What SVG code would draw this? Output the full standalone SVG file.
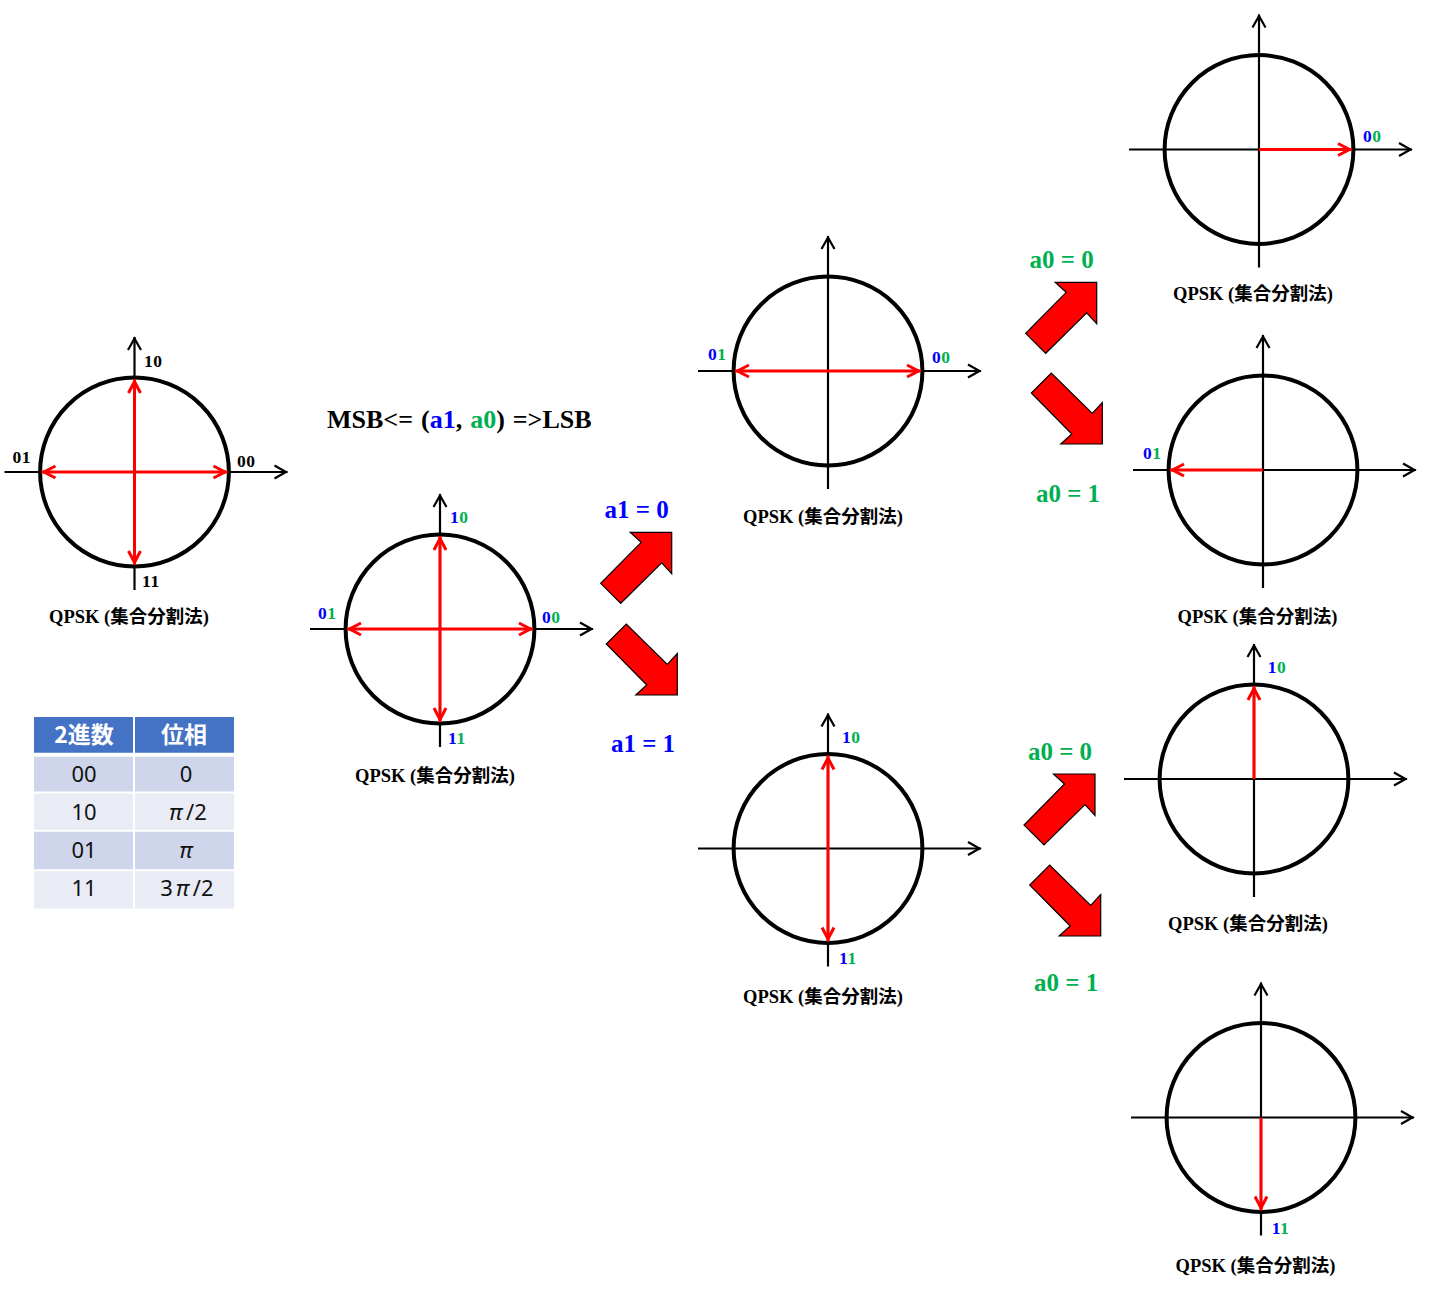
<svg xmlns="http://www.w3.org/2000/svg" xmlns:xlink="http://www.w3.org/1999/xlink" width="1432" height="1289" viewBox="0 0 1432 1289">
<style>
.circ{fill:none;stroke:#000;stroke-width:4}
.axis{fill:none;stroke:#000;stroke-width:2.2}
.red1{fill:none;stroke:#f00;stroke-width:3;marker-end:url(#rh)}
.red2{fill:none;stroke:#f00;stroke-width:3;marker-end:url(#rh);marker-start:url(#rh)}
.lbl{font-family:"Liberation Serif","Noto Sans CJK JP",serif;font-weight:bold;font-size:17.5px;letter-spacing:0.6px}
.cap{font-family:"Liberation Serif","Noto Sans CJK JP",serif;font-weight:bold;font-size:18.5px;text-anchor:middle;fill:#000}
.eq{font-family:"Liberation Serif",serif;font-weight:bold;font-size:25px;text-anchor:middle}
.b{fill:#0000ff}
.g{fill:#00b050}
.big{fill:#f00;stroke:#000;stroke-width:1.2;stroke-linejoin:miter}
.th{font-family:"Noto Sans CJK JP","Noto Sans",sans-serif;font-weight:bold;font-size:23px;fill:#fff;text-anchor:middle}
.td{font-family:"Noto Sans","Noto Sans CJK JP",sans-serif;font-size:22px;fill:#111;text-anchor:middle}
</style>
<defs>
<marker id="ah" markerUnits="userSpaceOnUse" markerWidth="24" markerHeight="24" viewBox="-16 -12 24 24" refX="0" refY="0" orient="auto">
<path d="M-13,-6.5 L-1.5,0 L-13,6.5" fill="none" stroke="#000" stroke-width="2.2"/>
</marker>
<marker id="rh" markerUnits="userSpaceOnUse" markerWidth="24" markerHeight="24" viewBox="-18 -12 24 24" refX="0" refY="0" orient="auto-start-reverse">
<path d="M-14,-6 L-2.5,0 L-14,6" fill="none" stroke="#f00" stroke-width="3"/>
</marker>
<g id="plane">
<path class="axis" d="M-130,0 H153" marker-end="url(#ah)"/>
<path class="axis" d="M0,118 V-135" marker-end="url(#ah)"/>
<circle class="circ" cx="0" cy="0" r="94.4"/>
</g>
<path id="bigUp" d="M-41.5,0 L0,0 L0,41.5 L-10,30.5 L-51,71 L-71,51 L-30.5,10 Z"/>
<path id="bigDown" d="M-41.5,0 L0,0 L0,-41.5 L-10,-30.5 L-51,-71 L-71,-51 L-30.5,-10 Z"/>
</defs>
<rect width="1432" height="1289" fill="#fff"/>

<g id="d1" transform="translate(134.5,472)">
<use href="#plane"/>
<path class="red2" d="M-93,0 H93"/>
<path class="red2" d="M0,-93 V93"/>
<text class="lbl" x="9.5" y="-105.3">10</text>
<text class="lbl" x="-122" y="-9.3">01</text>
<text class="lbl" x="102.5" y="-5.3">00</text>
<text class="lbl" x="7.5" y="114.7">11</text>
<text class="cap" x="-5.5" y="151">QPSK (集合分割法)</text>
</g>

<g id="title">
<text x="327" y="428.3" style="font-family:'Liberation Serif',serif;font-weight:bold;font-size:26px;word-spacing:1.5px">MSB&lt;= (<tspan class="b">a1</tspan>, <tspan class="g">a0</tspan>) =&gt;LSB</text>
</g>

<g id="d2" transform="translate(440,629)">
<use href="#plane"/>
<path class="red2" d="M-93,0 H93"/>
<path class="red2" d="M0,-93 V93"/>
<text class="lbl" x="10" y="-105.7"><tspan class="b">1</tspan><tspan class="g">0</tspan></text>
<text class="lbl" x="-122" y="-10"><tspan class="b">0</tspan><tspan class="g">1</tspan></text>
<text class="lbl" x="102" y="-6.3"><tspan class="b">0</tspan><tspan class="g">0</tspan></text>
<text class="lbl" x="8" y="115"><tspan class="b">1</tspan><tspan class="g">1</tspan></text>
<text class="cap" x="-5" y="152.7">QPSK (集合分割法)</text>
</g>

<g id="d3" transform="translate(828,371)">
<use href="#plane"/>
<path class="red2" d="M-93,0 H93"/>
<text class="lbl" x="-120" y="-11"><tspan class="b">0</tspan><tspan class="g">1</tspan></text>
<text class="lbl" x="104" y="-8.3"><tspan class="b">0</tspan><tspan class="g">0</tspan></text>
<text class="cap" x="-5" y="152.3">QPSK (集合分割法)</text>
</g>

<g id="d4" transform="translate(828,848.5)">
<use href="#plane"/>
<path class="red2" d="M0,-93 V93"/>
<text class="lbl" x="14" y="-105.2"><tspan class="b">1</tspan><tspan class="g">0</tspan></text>
<text class="lbl" x="11" y="115.8"><tspan class="b">1</tspan><tspan class="g">1</tspan></text>
<text class="cap" x="-5" y="154.2">QPSK (集合分割法)</text>
</g>

<g id="d5" transform="translate(1259,149.5)">
<use href="#plane"/>
<path class="red1" d="M0,0 H93"/>
<text class="lbl" x="104" y="-7.2"><tspan class="b">0</tspan><tspan class="g">0</tspan></text>
<text class="cap" x="-6" y="150.5">QPSK (集合分割法)</text>
</g>

<g id="d6" transform="translate(1263,470)">
<use href="#plane"/>
<path class="red1" d="M0,0 H-93"/>
<text class="lbl" x="-120" y="-11"><tspan class="b">0</tspan><tspan class="g">1</tspan></text>
<text class="cap" x="-5.5" y="153.3">QPSK (集合分割法)</text>
</g>

<g id="d7" transform="translate(1254,779)">
<use href="#plane"/>
<path class="red1" d="M0,0 V-93"/>
<text class="lbl" x="13.7" y="-105.7"><tspan class="b">1</tspan><tspan class="g">0</tspan></text>
<text class="cap" x="-6" y="151">QPSK (集合分割法)</text>
</g>

<g id="d8" transform="translate(1261,1117.5)">
<use href="#plane"/>
<path class="red1" d="M0,0 V93"/>
<text class="lbl" x="10.7" y="116.5"><tspan class="b">1</tspan><tspan class="g">1</tspan></text>
<text class="cap" x="-5.5" y="154.2">QPSK (集合分割法)</text>
</g>

<g id="connectors">
<use class="big" href="#bigUp" x="671.7" y="532.3"/>
<use class="big" href="#bigDown" x="677.3" y="695"/>
<use class="big" href="#bigUp" x="1096.7" y="282.3"/>
<use class="big" href="#bigDown" x="1102.3" y="444"/>
<use class="big" href="#bigUp" x="1095" y="774"/>
<use class="big" href="#bigDown" x="1100.7" y="936"/>
<text class="eq b" x="636.7" y="517.5">a1 = 0</text>
<text class="eq b" x="643" y="751.5">a1 = 1</text>
<text class="eq g" x="1061.7" y="267.5">a0 = 0</text>
<text class="eq g" x="1068" y="501.5">a0 = 1</text>
<text class="eq g" x="1060" y="760">a0 = 0</text>
<text class="eq g" x="1066.2" y="991">a0 = 1</text>
</g>

<g id="table">
<rect x="34" y="717" width="200" height="38" fill="#4472c4"/>
<rect x="34" y="755" width="200" height="38" fill="#cfd5ea"/>
<rect x="34" y="793" width="200" height="38" fill="#e9ebf5"/>
<rect x="34" y="831" width="200" height="39" fill="#cfd5ea"/>
<rect x="34" y="870" width="200" height="38.5" fill="#e9ebf5"/>
<path d="M34,754.7 H234" stroke="#fff" stroke-width="4"/>
<path d="M34,792.5 H234 M34,830.8 H234 M34,870.2 H234 M134,717 V908.5" stroke="#fff" stroke-width="2"/>
<text class="th" x="84" y="743.3">2進数</text>
<text class="th" x="184" y="743.3">位相</text>
<text class="td" x="84" y="781.7">00</text>
<text class="td" x="186" y="781.7">0</text>
<text class="td" x="84" y="820">10</text>
<text class="td" x="188" y="820"><tspan font-style="italic">π</tspan><tspan dx="4">/2</tspan></text>
<text class="td" x="84" y="858.3">01</text>
<text class="td" x="186" y="858.3" font-style="italic">π</text>
<text class="td" x="84" y="895.7">11</text>
<text class="td" x="187" y="895.7">3<tspan dx="3" font-style="italic">π</tspan><tspan dx="4">/2</tspan></text>
</g>
</svg>
